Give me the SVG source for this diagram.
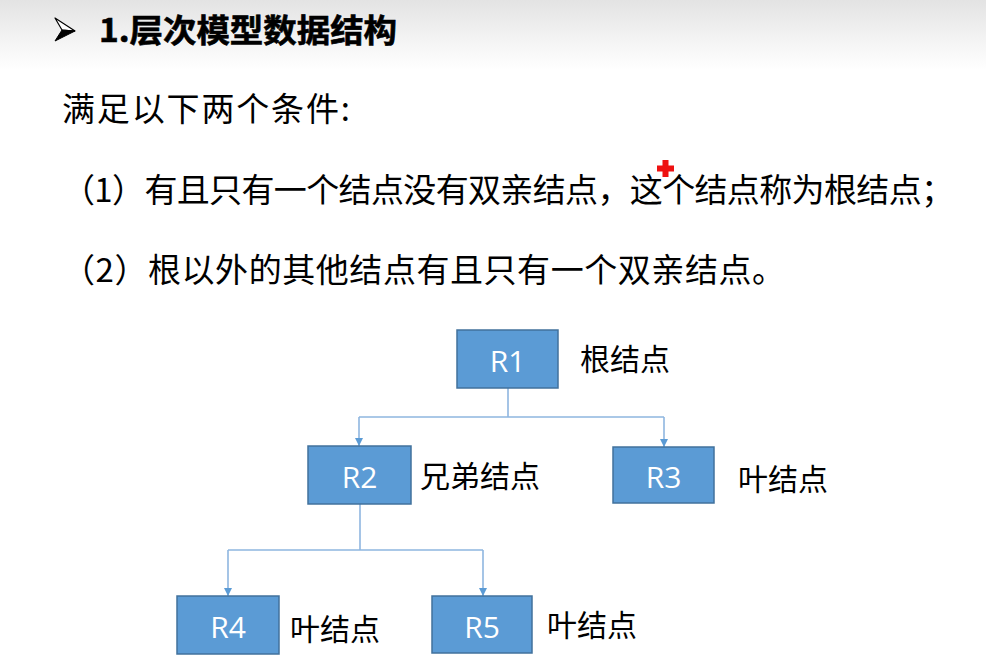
<svg xmlns="http://www.w3.org/2000/svg" width="986" height="659" viewBox="0 0 986 659">
  <defs>
    <linearGradient id="hdr" x1="0" y1="0" x2="0" y2="1">
      <stop offset="0" stop-color="#e3e3e3"/>
      <stop offset="0.55" stop-color="#f3f3f3"/>
      <stop offset="1" stop-color="#ffffff"/>
    </linearGradient>
    <marker id="arr" viewBox="0 0 10 10" refX="10" refY="5" markerWidth="8" markerHeight="8" markerUnits="userSpaceOnUse" orient="auto">
      <path d="M0,0 L10,5 L0,10 Z" fill="#5b9bd5"/>
    </marker>
    <style>
      .cjk { font-family: "Noto Sans CJK SC", "Liberation Sans", sans-serif; fill: #000; }
      .title { font-size: 32px; font-weight: bold; stroke: #000; stroke-width: 0.6; }
      .body { font-size: 33px; }
      .lbl { font-size: 30px; }
      .box rect { fill: #5b9bd5; stroke: #41719c; stroke-width: 1.5; }
      .box text { font-family: "Open Sans", "Noto Sans", sans-serif; font-size: 30px; fill: #ffffff; text-anchor: middle; }
      .conn path { fill: none; stroke: #8fb6e0; stroke-width: 1.6; }
    </style>
  </defs>

  <rect x="0" y="0" width="986" height="659" fill="#ffffff"/>
  <rect x="0" y="0" width="986" height="70" fill="url(#hdr)"/>

  <!-- heading bullet -->
  <g id="bullet">
    <polygon points="55,18 75,31 62,30" fill="#ffffff" stroke="#000" stroke-width="1.2" stroke-linejoin="round"/>
    <polygon points="62,30 75,31 55,41" fill="#000" stroke="#000" stroke-width="1" stroke-linejoin="round"/>
  </g>
  <text class="cjk title" x="99" y="42" textLength="298" lengthAdjust="spacingAndGlyphs">1.层次模型数据结构</text>

  <!-- body text -->
  <text class="cjk body" x="62" y="121" textLength="288" lengthAdjust="spacing">满足以下两个条件:</text>
  <text class="cjk body" x="62" y="202" textLength="892" lengthAdjust="spacing">（1）有且只有一个结点没有双亲结点，这个结点称为根结点；</text>
  <text class="cjk body" x="62" y="282" textLength="723" lengthAdjust="spacing">（2）根以外的其他结点有且只有一个双亲结点。</text>

  <!-- red cross mark -->
  <g id="cross" fill="#ee1111">
    <rect x="662.5" y="160" width="6" height="17"/>
    <rect x="657" y="165.5" width="17" height="6"/>
  </g>

  <!-- connectors -->
  <g id="connectors" class="conn">
    <path d="M508,388 V417 M359,417 H664"/>
    <path d="M359,417 V446" marker-end="url(#arr)"/>
    <path d="M664,417 V447" marker-end="url(#arr)"/>
    <path d="M360,504 V550 M228,550 H483"/>
    <path d="M228,550 V596" marker-end="url(#arr)"/>
    <path d="M483,550 V596" marker-end="url(#arr)"/>
  </g>

  <!-- nodes -->
  <g id="R1" class="box">
    <rect x="457" y="330" width="101" height="58"/>
    <text x="507.5" y="372">R1</text>
  </g>
  <g id="R2" class="box">
    <rect x="308" y="446" width="103" height="58"/>
    <text x="359.5" y="488">R2</text>
  </g>
  <g id="R3" class="box">
    <rect x="613" y="447" width="101" height="56"/>
    <text x="663.5" y="488">R3</text>
  </g>
  <g id="R4" class="box">
    <rect x="177" y="596" width="102" height="58"/>
    <text x="228" y="638">R4</text>
  </g>
  <g id="R5" class="box">
    <rect x="432" y="596" width="100" height="57"/>
    <text x="482" y="638">R5</text>
  </g>

  <!-- node labels -->
  <text class="cjk lbl" x="580" y="370">根结点</text>
  <text class="cjk lbl" x="420" y="487">兄弟结点</text>
  <text class="cjk lbl" x="738" y="490">叶结点</text>
  <text class="cjk lbl" x="290" y="640">叶结点</text>
  <text class="cjk lbl" x="547" y="636">叶结点</text>
</svg>
